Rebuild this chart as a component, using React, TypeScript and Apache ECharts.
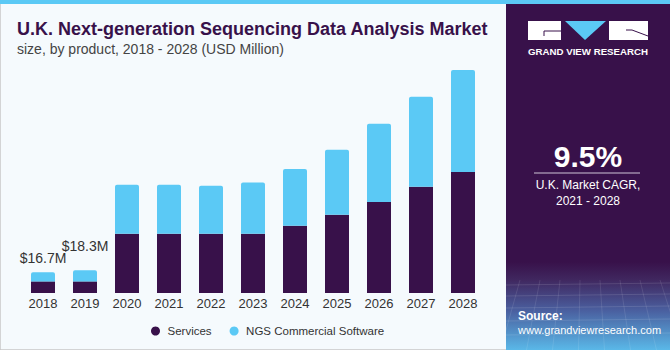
import React, { useEffect, useRef } from "react";
import * as echarts from "echarts";

const years = ["2018", "2019", "2020", "2021", "2022", "2023", "2024", "2025", "2026", "2027", "2028"];
const services = [9.3, 9.3, 47.4, 47.4, 47.4, 47.4, 53.8, 62.6, 72.8, 85.0, 96.8];
const ngsSoftware = [7.4, 9.0, 39.2, 39.2, 38.4, 41.0, 45.4, 52.0, 62.6, 72.0, 81.6];
const totalLabels = ["$16.7M", "$18.3M"];

const PURPLE = "#38114a";
const BLUE = "#5bc9f5";
const FONT = "'Liberation Sans', Arial, sans-serif";

export default function App() {
  const ref = useRef<HTMLDivElement>(null);
  useEffect(() => {
    document.body.style.margin = "0";
    if (!ref.current) return;
    const chart = echarts.init(ref.current, undefined, { renderer: "svg" });
    const labelOffsets = [[0, -2], [0, -12]];
    chart.setOption({
      animation: false,
      backgroundColor: "#f5fafd",
      textStyle: { fontFamily: FONT },
      grid: { left: 22, right: 186, top: 68, bottom: 57, containLabel: false },
      xAxis: {
        type: "category",
        data: years,
        axisLine: { show: false },
        axisTick: { show: false },
        axisLabel: { color: "#333", fontSize: 13, margin: 4, fontFamily: FONT },
      },
      yAxis: { type: "value", min: 0, max: 180, show: false, splitLine: { show: false } },
      legend: {
        left: 146,
        top: 320,
        icon: "circle",
        itemWidth: 14,
        itemHeight: 9,
        itemGap: 18,
        symbolKeepAspect: true,
        textStyle: { color: "#333", fontSize: 11.5, fontFamily: FONT },
        data: ["Services", "NGS Commercial Software"],
      },
      series: [
        {
          name: "Services",
          type: "bar",
          stack: "total",
          barWidth: 24,
          itemStyle: { color: PURPLE },
          data: services,
        },
        {
          name: "NGS Commercial Software",
          type: "bar",
          stack: "total",
          barWidth: 24,
          itemStyle: { color: BLUE, borderRadius: [2, 2, 0, 0] },
          data: ngsSoftware.map((v, i) =>
            i < totalLabels.length
              ? {
                  value: v,
                  label: {
                    show: true,
                    position: "top",
                    offset: labelOffsets[i],
                    formatter: totalLabels[i],
                    color: "#333",
                    fontSize: 14,
                    fontFamily: FONT,
                  },
                }
              : v
          ),
        },
      ],
      graphic: [
        { type: "rect", z: -1, shape: { x: 0, y: 0, width: 670, height: 350 }, style: { fill: "none", stroke: "#c8c8c8", lineWidth: 1.5 } },
        { type: "rect", z: 10, shape: { x: 0, y: 0, width: 670, height: 4 }, style: { fill: BLUE } },
        {
          type: "text",
          left: 17,
          top: 20,
          style: { text: "U.K. Next-generation Sequencing Data Analysis Market", fill: PURPLE, font: `bold 18px ${FONT}` },
        },
        {
          type: "text",
          left: 17,
          top: 42,
          style: { text: "size, by product, 2018 - 2028 (USD Million)", fill: "#444", font: `14px ${FONT}` },
        },
        { type: "rect", shape: { x: 506, y: 4, width: 164, height: 346 }, style: { fill: PURPLE } },
        {
          type: "rect",
          shape: { x: 506, y: 262, width: 164, height: 88 },
          style: {
            fill: new echarts.graphic.LinearGradient(0, 0, 0, 1, [
              { offset: 0, color: "#38114a" },
              { offset: 0.2, color: "#40275f" },
              { offset: 0.55, color: "#4a5f9f" },
              { offset: 1, color: "#5ab8e8" },
            ]),
          },
        },
        ...[285, 296, 308, 321, 335].map((y) => ({
          type: "line",
          shape: { x1: 506, y1: y, x2: 670, y2: y - 2 },
          style: { stroke: "rgba(255,255,255,0.12)", lineWidth: 1 },
        })),
        ...[520, 540, 560, 580, 600, 620, 640, 660].map((x) => ({
          type: "line",
          shape: { x1: x, y1: 280, x2: x + (x - 585) * 0.3, y2: 350 },
          style: { stroke: "rgba(255,255,255,0.1)", lineWidth: 1 },
        })),
        // logo
        { type: "rect", shape: { x: 528, y: 21, width: 33, height: 19 }, style: { fill: "#fff" } },
        { type: "polyline", shape: { points: [[561, 31], [544, 31], [544, 36]] }, style: { stroke: PURPLE, lineWidth: 1, fill: "none" } },
        { type: "polygon", shape: { points: [[565, 21], [606, 21], [585, 40]] }, style: { fill: BLUE } },
        { type: "rect", shape: { x: 609, y: 21, width: 39, height: 19 }, style: { fill: "#fff" } },
        { type: "polyline", shape: { points: [[626, 30], [632, 30], [648, 36]] }, style: { stroke: PURPLE, lineWidth: 1, fill: "none" } },
        {
          type: "text",
          x: 588,
          y: 51.5,
          style: { text: "GRAND VIEW RESEARCH", fill: "#fff", font: `bold 9.7px ${FONT}`, align: "center", verticalAlign: "middle" },
        },
        {
          type: "text",
          x: 588,
          y: 156,
          style: { text: "9.5%", fill: "#fff", font: `bold 30px ${FONT}`, align: "center", verticalAlign: "middle" },
        },
        { type: "line", shape: { x1: 534, y1: 173, x2: 640, y2: 173 }, style: { stroke: "#cfc6d6", lineWidth: 1 } },
        {
          type: "text",
          x: 588,
          y: 185,
          style: { text: "U.K. Market CAGR,", fill: "#fff", font: `12px ${FONT}`, align: "center", verticalAlign: "middle" },
        },
        {
          type: "text",
          x: 588,
          y: 201,
          style: { text: "2021 - 2028", fill: "#fff", font: `12px ${FONT}`, align: "center", verticalAlign: "middle" },
        },
        {
          type: "text",
          x: 518,
          y: 316,
          style: { text: "Source:", fill: "#fff", font: `bold 12px ${FONT}`, verticalAlign: "middle" },
        },
        {
          type: "text",
          x: 518,
          y: 330,
          style: { text: "www.grandviewresearch.com", fill: "#fff", font: `11px ${FONT}`, verticalAlign: "middle" },
        },
      ],
    });
    return () => chart.dispose();
  }, []);
  return <div ref={ref} style={{ width: 670, height: 350 }} />;
}
